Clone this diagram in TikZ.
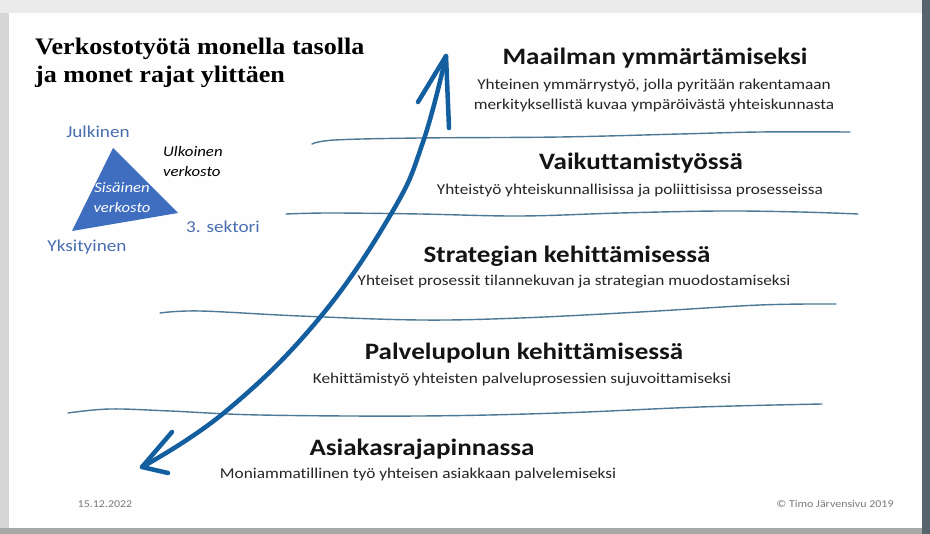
\documentclass[tikz,border=0pt]{standalone}
\usepackage{fontspec}
\setmainfont{Carlito}[FakeStretch=1.15, Ligatures={NoCommon}]
\newfontfamily\titlefont{Liberation Serif}[FakeStretch=1.1]
\definecolor{topgray}{HTML}{EBEBEB}
\definecolor{leftgray}{HTML}{D6D6D6}
\definecolor{botgray}{HTML}{A8A8A8}
\definecolor{rightdark}{HTML}{56646C}
\definecolor{slide}{HTML}{FEFEFE}
\definecolor{lblue}{HTML}{4A6FB0}
\definecolor{tri}{HTML}{3F6EC0}
\definecolor{wave}{HTML}{4D7896}
\definecolor{arrowc}{HTML}{135E9E}
\definecolor{foot}{HTML}{7A7A7A}
\tikzset{
  head/.style={inner sep=0pt, font=\fontsize{23.5}{26}\selectfont\bfseries, text=black!92},
  subtxt/.style={inner sep=0pt, font=\fontsize{15}{20}\selectfont, text=black!85, align=center},
  bluelab/.style={inner sep=0pt, font=\fontsize{16.7}{18}\selectfont, text=lblue},
  wavy/.style={draw=wave, line width=1.4pt, line cap=round},
  bigarrow/.style={draw=arrowc, line width=4.5pt, line cap=round, line join=round},
  foottxt/.style={inner sep=0pt, font=\fontsize{10.4}{12}\selectfont, text=foot}
}
\begin{document}
\begin{tikzpicture}[x=1pt, y=-1pt]
\useasboundingbox (0,0) rectangle (930,534);
% screen frame
\fill[topgray] (0,0) rectangle (930,534);
\fill[leftgray] (0,13) rectangle (9,534);
\fill[botgray] (0,528) rectangle (930,534);
\fill[rightdark] (922,0) rectangle (930,534);
\fill[slide] (9,13) rectangle (922,528);

% title
\node[inner sep=0pt, anchor=west, align=left, font=\titlefont\fontsize{23.7}{28}\selectfont\bfseries] (title) at (35,63)
  {Verkostotyötä monella tasolla\\ja monet rajat ylittäen};

% triangle
\coordinate (tA) at (113,148);
\coordinate (tB) at (72,231);
\coordinate (tC) at (178,213);
\fill[tri] (tA) -- (tB) -- (tC) -- cycle;
\node[inner sep=0pt, align=center, text=white, font=\fontsize{14.5}{20}\selectfont\itshape] (sis) at (122,198) {Sisäinen\\verkosto};
\node[bluelab] (julk) at (98,132) {Julkinen};
\node[inner sep=0pt, anchor=west, align=left, font=\fontsize{14.6}{20}\selectfont\itshape] (ulk) at (163,161) {Ulkoinen\\verkosto};
\node[bluelab, anchor=west] (sekt) at (186,227) {3. sektori};
\node[bluelab] (yks) at (87,247) {Yksityinen};

% levels
\node[head] (h1) at (655,58) {Maailman ymmärtämiseksi};
\node[subtxt] (s1) at (654,96) {Yhteinen ymmärrystyö, jolla pyritään rakentamaan\\merkityksellistä kuvaa ympäröivästä yhteiskunnasta};
\node[head] (h2) at (641,163) {Vaikuttamistyössä};
\node[subtxt] (s2) at (630,191) {Yhteistyö yhteiskunnallisissa ja poliittisissa prosesseissa};
\node[head] (h3) at (567,256) {Strategian kehittämisessä};
\node[subtxt] (s3) at (574,282) {Yhteiset prosessit tilannekuvan ja strategian muodostamiseksi};
\node[head] (h4) at (524,353) {Palvelupolun kehittämisessä};
\node[subtxt] (s4) at (522,380) {Kehittämistyö yhteisten palveluprosessien sujuvoittamiseksi};
\node[head] (h5) at (422,449) {Asiakasrajapinnassa};
\node[subtxt] (s5) at (418,475) {Moniammatillinen työ yhteisen asiakkaan palvelemiseksi};

% wavy separators
\draw[wavy] plot[smooth, tension=0.6] coordinates {(312,144) (335,140) (420,138) (560,137) (680,134) (760,132) (850,132)};
\draw[wavy] plot[smooth, tension=0.6] coordinates {(286,214) (330,213) (420,214) (520,216) (620,213) (720,211) (800,212) (858,214)};
\draw[wavy] plot[smooth, tension=0.6] coordinates {(160,313) (200,311) (300,316) (420,320) (520,318) (640,312) (760,305) (836,304)};
\draw[wavy] plot[smooth, tension=0.6] coordinates {(68,413) (110,409) (170,411) (260,415) (420,416) (560,413) (700,407) (822,404)};

% big double arrow
\coordinate (abot) at (142,467);
\coordinate (atop) at (446,56);
\draw[bigarrow] plot[smooth, tension=0.7] coordinates {(abot) (225,412) (317,321) (391,214) (423,142) (atop)};
\draw[bigarrow] (172,432) -- (abot) -- (168,473);
\draw[bigarrow] (418,102) -- (atop) -- (449,128);

% footer
\node[foottxt] (date) at (105,504) {15.12.2022};
\node[foottxt] (copy) at (835,504) {© Timo Järvensivu 2019};
\end{tikzpicture}
\end{document}
